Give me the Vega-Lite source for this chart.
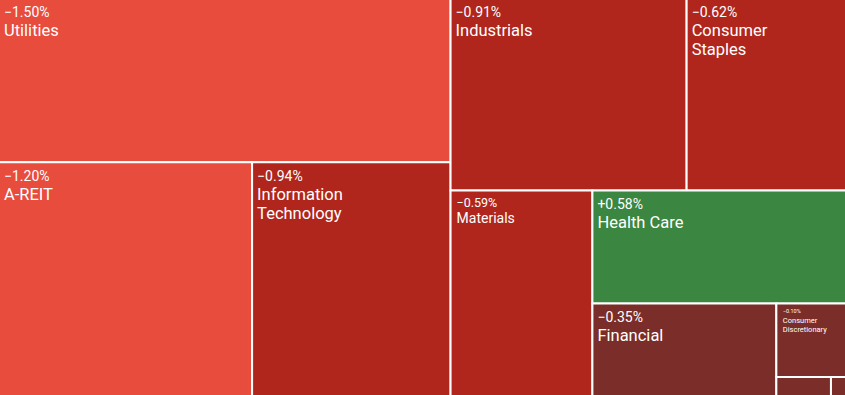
{
  "$schema": "https://vega.github.io/schema/vega-lite/v6.json",
  "width": 845,
  "height": 395,
  "autosize": {"type": "fit", "contains": "padding"},
  "padding": 0,
  "background": "white",
  "config": {"view": {"stroke": null}, "font": "Roboto"},
  "data": {
    "values": [
      {"sector": "Utilities", "change": -1.50, "x0": 0, "x1": 450.5, "y0": 0, "y1": 162.5},
      {"sector": "A-REIT", "change": -1.20, "x0": 0, "x1": 252.5, "y0": 162.5, "y1": 395},
      {"sector": "Information Technology", "change": -0.94, "x0": 252.5, "x1": 450.5, "y0": 162.5, "y1": 395},
      {"sector": "Industrials", "change": -0.91, "x0": 450.5, "x1": 686, "y0": 0, "y1": 190.5},
      {"sector": "Consumer Staples", "change": -0.62, "x0": 686, "x1": 845, "y0": 0, "y1": 190.5},
      {"sector": "Materials", "change": -0.59, "x0": 450.5, "x1": 592, "y0": 190.5, "y1": 395},
      {"sector": "Health Care", "change": 0.58, "x0": 592, "x1": 845, "y0": 190.5, "y1": 303},
      {"sector": "Financial", "change": -0.35, "x0": 592, "x1": 775.5, "y0": 303, "y1": 395},
      {"sector": "Consumer Discretionary", "change": -0.10, "x0": 775.5, "x1": 845, "y0": 303, "y1": 376},
      {"sector": "Energy", "change": -0.20, "x0": 775.5, "x1": 830, "y0": 376, "y1": 395},
      {"sector": "Communication Services", "change": -0.05, "x0": 830, "x1": 845, "y0": 376, "y1": 395}
    ]
  },
  "transform": [
    {"calculate": "format(datum.change, '+.2f') + '%'", "as": "pct"}
  ],
  "encoding": {
    "x": {"field": "x0", "type": "quantitative", "axis": null, "scale": {"domain": [1, 844], "nice": false, "zero": false}},
    "y": {"field": "y0", "type": "quantitative", "axis": null, "scale": {"domain": [1, 394], "nice": false, "zero": false, "reverse": true}}
  },
  "layer": [
    {
      "mark": {"type": "rect", "stroke": "white", "strokeWidth": 2, "clip": true},
      "encoding": {
        "x2": {"field": "x1"},
        "y2": {"field": "y1"},
        "color": {
          "field": "change",
          "type": "quantitative",
          "legend": null,
          "scale": {"type": "threshold", "domain": [-1, -0.5, 0], "range": ["#E74C3D", "#B0261D", "#7B2E29", "#3B8640"]}
        }
      }
    },
    {
      "transform": [{"filter": "indexof(['Utilities','A-REIT','Information Technology','Industrials','Consumer Staples','Health Care','Financial'], datum.sector) >= 0"}],
      "mark": {"type": "text", "align": "left", "baseline": "alphabetic", "dx": 5, "dy": 18.5, "fontSize": 14, "color": "white"},
      "encoding": {"text": {"field": "pct"}}
    },
    {
      "transform": [{"filter": "indexof(['Utilities','A-REIT','Industrials','Health Care','Financial'], datum.sector) >= 0"}],
      "mark": {"type": "text", "align": "left", "baseline": "alphabetic", "dx": 5, "dy": 37.5, "fontSize": 16.5, "color": "white"},
      "encoding": {"text": {"field": "sector"}}
    },
    {
      "transform": [{"filter": "indexof(['Information Technology','Consumer Staples'], datum.sector) >= 0"}],
      "mark": {"type": "text", "align": "left", "baseline": "alphabetic", "dx": 5, "dy": 37.5, "fontSize": 16.5, "lineHeight": 19, "lineBreak": " ", "color": "white"},
      "encoding": {"text": {"field": "sector"}}
    },
    {
      "transform": [{"filter": "datum.sector === 'Materials'"}],
      "mark": {"type": "text", "align": "left", "baseline": "alphabetic", "dx": 6, "dy": 16.5, "fontSize": 12.5, "color": "white"},
      "encoding": {"text": {"field": "pct"}}
    },
    {
      "transform": [{"filter": "datum.sector === 'Materials'"}],
      "mark": {"type": "text", "align": "left", "baseline": "alphabetic", "dx": 6, "dy": 33, "fontSize": 14, "color": "white"},
      "encoding": {"text": {"field": "sector"}}
    },
    {
      "transform": [{"filter": "datum.sector === 'Consumer Discretionary'"}],
      "mark": {"type": "text", "align": "left", "baseline": "alphabetic", "dx": 6.5, "dy": 9.5, "fontSize": 5.5, "color": "white"},
      "encoding": {"text": {"field": "pct"}}
    },
    {
      "transform": [{"filter": "datum.sector === 'Consumer Discretionary'"}],
      "mark": {"type": "text", "align": "left", "baseline": "alphabetic", "dx": 6.5, "dy": 19.5, "fontSize": 7.5, "lineHeight": 8.5, "lineBreak": " ", "color": "white"},
      "encoding": {"text": {"field": "sector"}}
    }
  ]
}
